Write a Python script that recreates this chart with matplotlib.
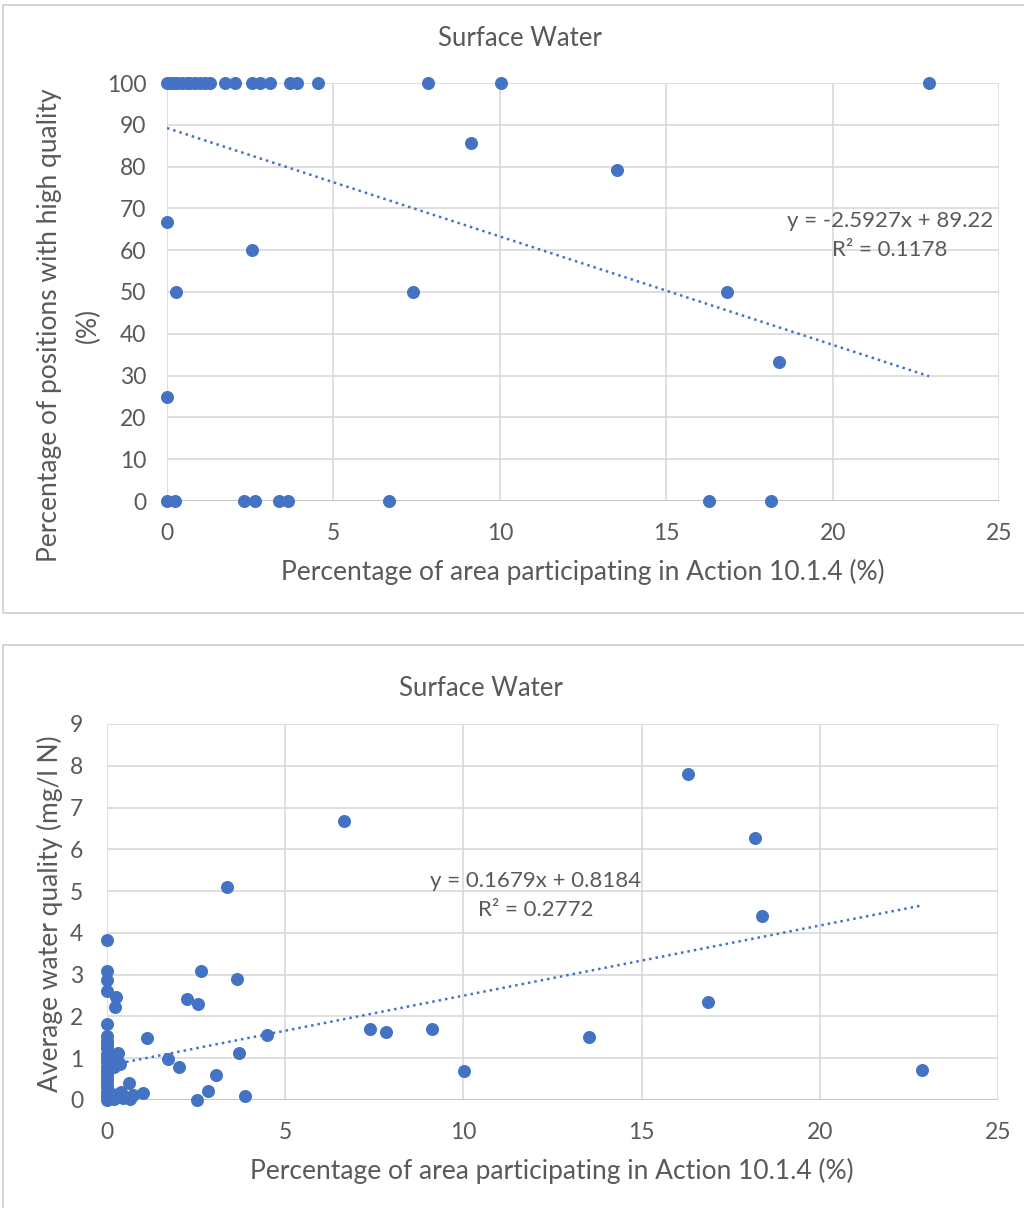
import matplotlib
matplotlib.use("Agg")
import matplotlib.pyplot as plt
import numpy as np
from matplotlib.patches import Rectangle

plt.rcParams['font.family'] = ['Lato', 'DejaVu Sans']

# ---------------- data: top chart ----------------
top_x = [0, 0.1, 0.2, 0.3, 0.45, 0.6, 0.7, 0.85, 1.0, 1.15, 1.3, 1.74, 2.04, 2.55, 2.79, 3.09,
         3.70, 3.91, 4.54, 7.84, 10.04, 22.9,
         9.13, 13.52, 0.0, 2.55, 0.27, 7.39, 16.84, 18.39, 0.0,
         0.0, 0.25, 2.31, 2.64, 3.37, 3.64, 6.67, 16.29, 18.15]
top_y = [100, 100, 100, 100, 100, 100, 100, 100, 100, 100, 100, 100, 100, 100, 100, 100,
         100, 100, 100, 100, 100, 100,
         85.7, 79.2, 66.7, 60, 50, 50, 50, 33.3, 25,
         0, 0, 0, 0, 0, 0, 0, 0, 0]
top_slope, top_icpt = -2.5927, 89.22
top_eq = ["y = -2.5927x + 89.22", "R² = 0.1178"]

# ---------------- data: bottom chart ----------------
bot_x = [16.30, 6.65, 18.18, 3.37, 18.38, 0.0, 0.0, 0.0, 0.0, 2.64, 3.65, 0.25, 0.22,
         2.24, 2.55, 16.86, 0.0, 1.12, 4.49, 7.38, 7.83, 9.12, 13.52, 3.70, 1.71, 2.02,
         3.06, 0.62, 2.83, 3.87, 1.01, 2.53, 10.02, 22.87, 0.65, 0.73, 0.36,
         0.0, 0.0, 0.0, 0.0, 0.0, 0.0, 0.0, 0.0, 0.0, 0.0, 0.0, 0.0, 0.0, 0.0, 0.0, 0.0,
         0.1, 0.1, 0.1, 0.2, 0.2, 0.2, 0.3, 0.3, 0.36, 0.1, 0.2, 0.3, 0.4, 0.45, 0.15]
bot_y = [7.80, 6.68, 6.27, 5.10, 4.40, 3.83, 3.09, 2.87, 2.61, 3.09, 2.90, 2.47, 2.23,
         2.42, 2.30, 2.35, 1.82, 1.48, 1.56, 1.70, 1.63, 1.70, 1.51, 1.12, 0.98, 0.79,
         0.60, 0.41, 0.22, 0.10, 0.17, 0.0, 0.69, 0.72, 0.03, 0.12, 0.17,
         1.52, 1.42, 1.35, 1.25, 1.10, 1.0, 0.9, 0.8, 0.7, 0.6, 0.5, 0.4, 0.3, 0.2, 0.1, 0.0,
         1.05, 0.95, 0.85, 1.0, 0.9, 0.8, 1.13, 0.92, 0.85, 0.05, 0.02, 0.1, 0.18, 0.05, 0.15]
bot_slope, bot_icpt = 0.1679, 0.8184
bot_eq = ["y = 0.1679x + 0.8184", "R² = 0.2772"]

title = "Surface Water"
xlabel = "Percentage of area participating in Action 10.1.4 (%)"
top_ylabel = ["Percentage of positions with high quality", "(%)"]
bot_ylabel = "Average water quality (mg/l N)"

BLUE = "#4472C4"
TXT = "#595959"
GRID = "#d9d9d9"

fig = plt.figure(figsize=(10.24, 12.08), dpi=100)
W, H = 1024, 1208

def fx(px):
    return px / W

def fy(py):
    return 1 - py / H

def ftext(px, py, s, size, **kw):
    fig.text(fx(px), fy(py), s, fontsize=size, color=TXT, ha="center", va="center", **kw)

# outer boxes
fig.patches.append(Rectangle((fx(3), fy(613)), fx(1030) - fx(3), fy(5) - fy(613),
                             transform=fig.transFigure, fill=False, ec="#d0d0d0", lw=1.2))
fig.patches.append(Rectangle((fx(3), fy(1215)), fx(1030) - fx(3), fy(645) - fy(1215),
                             transform=fig.transFigure, fill=False, ec="#d0d0d0", lw=1.2))

def setup(ax, xs, ys, slope, icpt, ylim, yticks, ypad):
    ax.set_xlim(0, 25)
    ax.set_ylim(*ylim)
    ax.set_xticks([0, 5, 10, 15, 20, 25])
    ax.set_yticks(yticks)
    ax.grid(True, color=GRID, lw=1.2)
    ax.set_axisbelow(True)
    for s in ax.spines.values():
        s.set_visible(False)
    ax.axhline(ylim[0], color="#bfbfbf", lw=1.2, zorder=1)
    ax.tick_params(length=0, labelsize=16.5, labelcolor=TXT)
    ax.tick_params(axis="x", pad=16)
    ax.tick_params(axis="y", pad=ypad)
    ax.scatter(xs, ys, s=88, color=BLUE, zorder=3, clip_on=False, linewidths=0)
    xx = np.array([min(xs), max(xs)])
    ax.plot(xx, slope * xx + icpt, ls=(0, (1, 1.6)), color=BLUE, lw=1.8, zorder=2)

ax1 = fig.add_axes([fx(167), fy(501), fx(999) - fx(167), fy(83) - fy(501)])
setup(ax1, top_x, top_y, top_slope, top_icpt, (0, 100), np.arange(0, 101, 10), 15)
ftext(520, 38, title, 18.5)
ftext(583, 572, xlabel, 19)
ftext(890, 221, top_eq[0], 16)
ftext(890, 250, top_eq[1], 16)
ftext(50, 325, top_ylabel[0], 19, rotation=90)
ftext(88, 325, top_ylabel[1], 19, rotation=90)

ax2 = fig.add_axes([fx(107), fy(1100), fx(998) - fx(107), fy(724) - fy(1100)])
setup(ax2, bot_x, bot_y, bot_slope, bot_icpt, (0, 9), np.arange(0, 10, 1), 17)
ftext(481, 688, title, 18.5)
ftext(552, 1171, xlabel, 19)
ftext(536, 881, bot_eq[0], 16)
ftext(536, 910, bot_eq[1], 16)
ftext(50, 914, bot_ylabel, 19, rotation=90)

fig.savefig("out.png", dpi=100)
